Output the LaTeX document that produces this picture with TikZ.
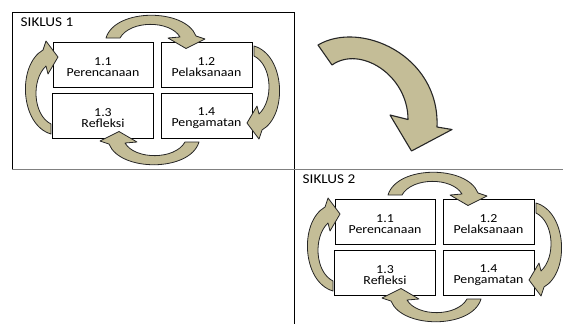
\documentclass[tikz,border=0pt]{standalone}
\usepackage{fontspec}
\setmainfont{Carlito}[FakeStretch=1.13]
\definecolor{tanfill}{RGB}{196,189,151}
\definecolor{framegray}{RGB}{128,128,128}
\begin{document}
\begin{tikzpicture}[x=1bp,y=-1bp,
  stagebox/.style={draw=black, line width=0.8bp, fill=white, minimum height=45bp, inner sep=0pt},
  stagetext/.style={align=center, inner sep=0pt, font=\fontsize{12.3}{11.5}\selectfont},
  blockarrow/.style={draw=black!85, line width=0.8bp, fill=tanfill, line join=round},
  titletext/.style={anchor=base west, inner sep=0pt, font=\fontsize{13.5}{14}\selectfont}]
\useasboundingbox (0,0) rectangle (563,324);
% frame lines
\draw[black, line width=0.8bp] (294,169.5) -- (294,12.5) -- (12,12.5) -- (12,169.5);
\draw[black, line width=0.9bp] (294,169.5) -- (294,324);
\draw[framegray, line width=1.6bp] (12,169.5) -- (563,169.5);
% big arrow
\draw[blockarrow, line width=1.1bp] (318,45) .. controls (360,20) and (440,55) .. (437,127)
  -- (452,129.5) -- (411.5,151) -- (390,115) -- (408,119.5)
  .. controls (408,75) and (360,45) .. (332,65) -- cycle;
\foreach \dx/\dy/\n in {0/0/1, 282/157/2}{
\begin{scope}[shift={(\dx,\dy)}]
  \node[titletext] (t\n) at (20.5,26) {SIKLUS \n};
  \node[stagebox, minimum width=100bp] (a\n) at (103,64.5) {};
  \node[stagebox, minimum width=91bp] (b\n) at (206.5,64.5) {};
  \node[stagebox, minimum width=101bp] (c\n) at (103,115.5) {};
  \node[stagebox, minimum width=91bp] (d\n) at (206.5,115.5) {};
  \node[stagetext] (ta\n) at ([yshift=-2.5bp]a\n.center) {1.1\\Perencanaan};
  \node[stagetext] (tb\n) at ([yshift=-2.5bp]b\n.center) {1.2\\Pelaksanaan};
  \node[stagetext] (tc\n) at ([yshift=-2.5bp]c\n.center) {1.3\\Refleksi};
  \node[stagetext] (td\n) at ([yshift=-2.5bp]d\n.center) {1.4\\Pengamatan};
  % top and right arrows, then rotated copies for bottom and left
  \foreach \r in {0,180}{
  \begin{scope}[rotate around={\r:(152.5,90)}]
    \draw[blockarrow] (106,38) .. controls (115,8) and (185,8) .. (196,36)
      -- (205,39) -- (186,48.5) -- (168,38) -- (180,37)
      .. controls (170,20) and (130,20) .. (120,38) -- cycle;
    \draw[blockarrow] (254,46) .. controls (285,55) and (288,115) .. (262,130)
      -- (259,139) -- (247,123) -- (257,106) -- (259,114)
      .. controls (274,100) and (272,65) .. (254,56) -- cycle;
  \end{scope}}
\end{scope}}
\end{tikzpicture}
\end{document}
